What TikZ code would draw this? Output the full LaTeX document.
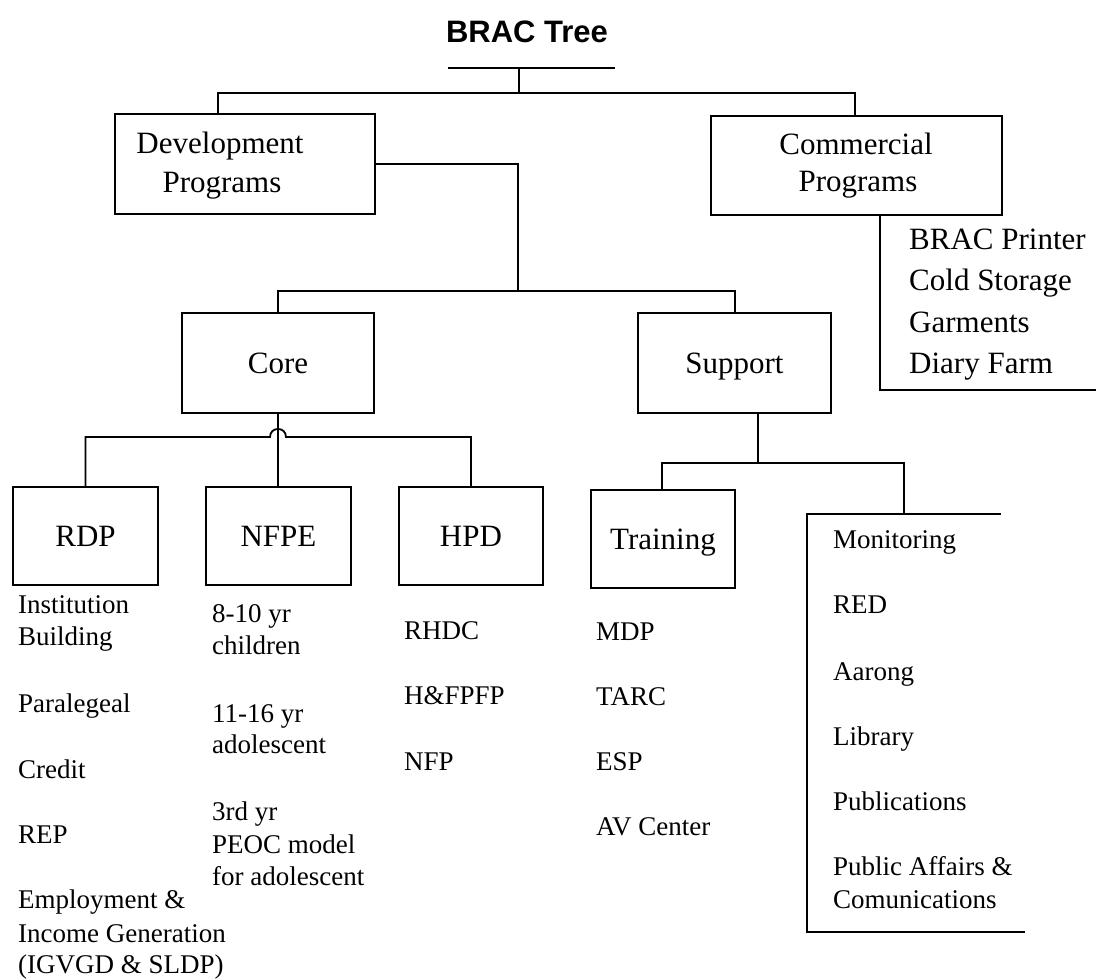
\documentclass[tikz,border=0pt]{standalone}
\usepackage{fontspec}
\setmainfont{Liberation Serif}
\newfontfamily\titlefont{Liberation Sans}
\begin{document}
\begin{tikzpicture}[x=1pt,y=-1pt,
  box/.style={draw,line width=1.8pt,inner sep=0pt,font=\fontsize{31}{37}\selectfont,text height=21pt,text depth=0pt},
  conn/.style={line width=1.8pt},
  bigtext/.style={font=\fontsize{31}{37}\selectfont,inner sep=0pt,anchor=base},
  bigitem/.style={font=\fontsize{31}{37}\selectfont,inner sep=0pt,anchor=base west},
  item/.style={font=\fontsize{27}{32}\selectfont,inner sep=0pt,anchor=base west}]
\useasboundingbox (0,0) rectangle (1096,979);

% title
\node[font=\titlefont\bfseries\fontsize{31}{37}\selectfont,inner sep=0pt,anchor=base] (title) at (527,43) {BRAC Tree};

% boxes
\node[box,minimum width=260pt,minimum height=100pt] (dev) at (245,164) {};
\node[bigtext] (devt1) at (220,154) {Development};
\node[bigtext] (devt2) at (222,193) {Programs};
\node[box,minimum width=291pt,minimum height=99pt] (com) at (856.5,165.5) {};
\node[bigtext] (comt1) at (856,155) {Commercial};
\node[bigtext] (comt2) at (858,192) {Programs};
\node[box,minimum width=192pt,minimum height=100pt] (core) at (278,363) {Core};
\node[box,minimum width=193pt,minimum height=100pt] (sup) at (734.5,363) {Support};
\node[box,minimum width=145pt,minimum height=98pt] (rdp) at (85.5,536) {RDP};
\node[box,minimum width=145pt,minimum height=98pt] (nfpe) at (278.5,536) {NFPE};
\node[box,minimum width=144pt,minimum height=98pt] (hpd) at (471,536) {HPD};
\node[box,minimum width=144pt,minimum height=98pt] (trn) at (663,539) {Training};

% top connectors
\coordinate (t1) at (448,68);
\coordinate (t2) at (615,68);
\coordinate (t3) at (519,68);
\coordinate (t4) at (519,93);
\draw[conn] (t1) -- (t2);
\draw[conn] (t3) -- (t4);
\coordinate (j1) at (218,93);
\coordinate (j2) at (855,93);
\draw[conn] (dev.north -| j1) -- (j1) -- (j2) -- (com.north -| j2);

% development to core/support
\coordinate (j3) at (518,291);
\draw[conn] (dev.east) -- (dev.east -| j3) -- (j3);
\coordinate (j4) at (278,291);
\coordinate (j5) at (735,291);
\draw[conn] (core.north -| j4) -- (j4) -- (j5) -- (sup.north -| j5);

% core to children
\draw[conn] (core.south) -- (core.south |- nfpe.north);
\coordinate (k1) at (270,437);
\coordinate (k2) at (286,437);
\draw[conn] (rdp.north) -- (rdp.north |- k1) -- (k1) .. controls (270,426.3) and (286,426.3) .. (k2) -- (hpd.north |- k2) -- (hpd.north);

% support to children
\coordinate (s1) at (758,463);
\coordinate (s2) at (662,463);
\coordinate (s3) at (904,463);
\coordinate (m0) at (904,514);
\draw[conn] (sup.south -| s1) -- (s1);
\draw[conn] (trn.north -| s2) -- (s2) -- (s3) -- (m0);
\coordinate (m1) at (1001,514);
\coordinate (m2) at (807,514);
\coordinate (m3) at (807,932);
\coordinate (m4) at (1025,932);
\draw[conn] (m1) -- (m2) -- (m3) -- (m4);

% commercial bracket
\coordinate (c1) at (880,390);
\coordinate (c2) at (1096,390);
\draw[conn] (com.south -| c1) -- (c1) -- (c2);

% commercial list
\node[bigitem] (cl1) at (909,249) {BRAC Printer};
\node[bigitem] (cl2) at (909,290.5) {Cold Storage};
\node[bigitem] (cl3) at (909,332) {Garments};
\node[bigitem] (cl4) at (909,373) {Diary Farm};

% RDP list
\node[item] (r1) at (18,613) {Institution};
\node[item] (r2) at (18,645) {Building};
\node[item] (r3) at (18,712) {Paralegeal};
\node[item] (r4) at (18,778) {Credit};
\node[item] (r5) at (18,843) {REP};
\node[item] (r6) at (18,908) {Employment \&};
\node[item] (r7) at (18,942) {Income Generation};
\node[item] (r8) at (18,973) {(IGVGD \& SLDP)};

% NFPE list
\node[item] (n1) at (212,622) {8-10 yr};
\node[item] (n2) at (212,654) {children};
\node[item] (n3) at (212,722) {11-16 yr};
\node[item] (n4) at (212,753) {adolescent};
\node[item] (n5) at (212,820) {3rd yr};
\node[item] (n6) at (212,853) {PEOC model};
\node[item] (n7) at (212,885) {for adolescent};

% HPD list
\node[item] (h1) at (404,639) {RHDC};
\node[item] (h2) at (404,704) {H\&FPFP};
\node[item] (h3) at (404,770) {NFP};

% Training list
\node[item] (tr1) at (596,640) {MDP};
\node[item] (tr2) at (596,705) {TARC};
\node[item] (tr3) at (596,770) {ESP};
\node[item] (tr4) at (596,835) {AV Center};

% Monitoring list
\node[item] (mo1) at (833,548) {Monitoring};
\node[item] (mo2) at (833,613) {RED};
\node[item] (mo3) at (833,680) {Aarong};
\node[item] (mo4) at (833,745) {Library};
\node[item] (mo5) at (833,810) {Publications};
\node[item] (mo6) at (833,875) {Public Affairs \&};
\node[item] (mo7) at (833,908) {Comunications};
\end{tikzpicture}
\end{document}
